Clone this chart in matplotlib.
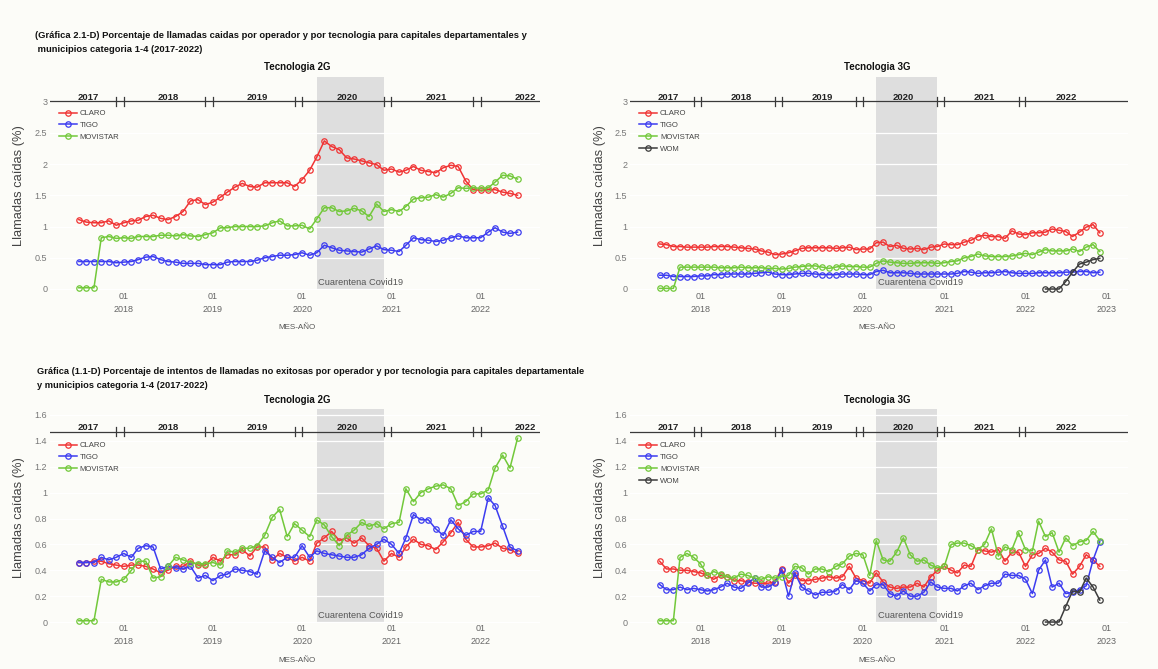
import numpy as np
import pandas as pd
import matplotlib
matplotlib.use("Agg")
import matplotlib.pyplot as plt
from matplotlib import font_manager
from matplotlib.font_manager import FontProperties

# ---------------- data ----------------
start_month = "2017-07-01"
n_months_2g = 60
n_months_3g = 66
wom_start_month = "2022-04-01"
years = [2017, 2018, 2019, 2020, 2021, 2022]
covid_start = "2020-03-01"
covid_end = "2020-12-01"
covid_label = "Cuarentena Covid19"
operators = ["CLARO", "TIGO", "MOVISTAR", "WOM"]

# Llamadas caidas - 2G
claro_2g_caidas = [1.11, 1.07, 1.06, 1.06, 1.09, 1.02, 1.06, 1.09, 1.10, 1.16,
                   1.18, 1.13, 1.11, 1.16, 1.24, 1.41, 1.43, 1.35, 1.39, 1.47,
                   1.55, 1.63, 1.69, 1.64, 1.63, 1.70, 1.70, 1.70, 1.70, 1.64,
                   1.75, 1.90, 2.11, 2.37, 2.28, 2.23, 2.10, 2.08, 2.05, 2.02,
                   1.99, 1.90, 1.92, 1.87, 1.90, 1.96, 1.90, 1.88, 1.86, 1.94,
                   1.98, 1.96, 1.73, 1.59, 1.58, 1.59, 1.59, 1.55, 1.53, 1.50]
tigo_2g_caidas = [0.44, 0.44, 0.44, 0.44, 0.44, 0.42, 0.43, 0.44, 0.47, 0.51,
                  0.52, 0.47, 0.44, 0.43, 0.41, 0.41, 0.41, 0.39, 0.39, 0.39,
                  0.43, 0.44, 0.44, 0.44, 0.46, 0.50, 0.52, 0.54, 0.54, 0.55,
                  0.58, 0.54, 0.58, 0.70, 0.66, 0.62, 0.61, 0.60, 0.59, 0.64,
                  0.69, 0.63, 0.62, 0.60, 0.70, 0.82, 0.79, 0.78, 0.76, 0.78,
                  0.82, 0.85, 0.82, 0.82, 0.82, 0.91, 0.98, 0.91, 0.89, 0.91]
movistar_2g_caidas = [0.02, 0.02, 0.02, 0.82, 0.84, 0.81, 0.82, 0.81, 0.84, 0.84,
                      0.84, 0.86, 0.86, 0.85, 0.87, 0.85, 0.84, 0.87, 0.90, 0.98,
                      0.98, 1.00, 1.00, 1.00, 1.00, 1.01, 1.06, 1.09, 1.01, 1.01,
                      1.02, 0.96, 1.12, 1.30, 1.30, 1.24, 1.25, 1.29, 1.25, 1.16,
                      1.36, 1.24, 1.27, 1.24, 1.32, 1.44, 1.46, 1.47, 1.51, 1.47,
                      1.53, 1.62, 1.61, 1.62, 1.61, 1.62, 1.71, 1.82, 1.81, 1.76]

# Llamadas caidas - 3G
claro_3g_caidas = [0.72, 0.71, 0.68, 0.68, 0.67, 0.67, 0.67, 0.67, 0.68, 0.68,
                   0.68, 0.67, 0.66, 0.65, 0.64, 0.61, 0.59, 0.55, 0.56, 0.58,
                   0.61, 0.65, 0.66, 0.66, 0.66, 0.66, 0.65, 0.66, 0.67, 0.63,
                   0.64, 0.64, 0.74, 0.75, 0.68, 0.70, 0.65, 0.64, 0.65, 0.63,
                   0.67, 0.68, 0.72, 0.71, 0.71, 0.75, 0.78, 0.84, 0.86, 0.84,
                   0.84, 0.81, 0.93, 0.88, 0.87, 0.90, 0.90, 0.91, 0.96, 0.94,
                   0.92, 0.84, 0.91, 0.99, 1.03, 0.90]
tigo_3g_caidas = [0.22, 0.22, 0.20, 0.20, 0.20, 0.20, 0.21, 0.21, 0.23, 0.23,
                  0.24, 0.24, 0.24, 0.24, 0.25, 0.26, 0.27, 0.24, 0.23, 0.23,
                  0.24, 0.25, 0.25, 0.24, 0.23, 0.23, 0.23, 0.24, 0.24, 0.24,
                  0.23, 0.23, 0.28, 0.30, 0.26, 0.26, 0.26, 0.25, 0.24, 0.24,
                  0.24, 0.24, 0.24, 0.24, 0.25, 0.28, 0.27, 0.25, 0.26, 0.26,
                  0.27, 0.28, 0.26, 0.25, 0.25, 0.25, 0.26, 0.26, 0.26, 0.26,
                  0.27, 0.27, 0.28, 0.28, 0.26, 0.27]
movistar_3g_caidas = [0.01, 0.01, 0.01, 0.35, 0.35, 0.35, 0.35, 0.35, 0.35, 0.34,
                      0.34, 0.34, 0.35, 0.34, 0.34, 0.34, 0.33, 0.33, 0.32, 0.33,
                      0.35, 0.36, 0.37, 0.37, 0.35, 0.33, 0.35, 0.37, 0.36, 0.36,
                      0.35, 0.35, 0.41, 0.45, 0.43, 0.42, 0.41, 0.41, 0.42, 0.42,
                      0.42, 0.41, 0.42, 0.44, 0.45, 0.50, 0.52, 0.56, 0.53, 0.52,
                      0.52, 0.52, 0.53, 0.55, 0.57, 0.55, 0.59, 0.63, 0.61, 0.61,
                      0.61, 0.64, 0.60, 0.67, 0.71, 0.60]
wom_3g_caidas = [0.0, 0.0, 0.0, 0.12, 0.27, 0.40, 0.43, 0.47, 0.49]

# Intentos no exitosos - 2G
claro_2g_intentos = [0.46, 0.46, 0.47, 0.47, 0.45, 0.44, 0.43, 0.44, 0.44, 0.43,
                     0.41, 0.38, 0.40, 0.43, 0.43, 0.47, 0.44, 0.44, 0.50, 0.47,
                     0.52, 0.52, 0.56, 0.51, 0.58, 0.58, 0.48, 0.53, 0.50, 0.47,
                     0.50, 0.47, 0.61, 0.65, 0.70, 0.63, 0.65, 0.61, 0.65, 0.59,
                     0.57, 0.47, 0.53, 0.50, 0.58, 0.64, 0.60, 0.59, 0.56, 0.62,
                     0.69, 0.77, 0.64, 0.58, 0.58, 0.59, 0.61, 0.57, 0.56, 0.53]
tigo_2g_intentos = [0.46, 0.46, 0.46, 0.50, 0.48, 0.50, 0.53, 0.50, 0.57, 0.59,
                    0.58, 0.41, 0.43, 0.42, 0.41, 0.43, 0.34, 0.36, 0.32, 0.36,
                    0.37, 0.41, 0.40, 0.39, 0.37, 0.55, 0.50, 0.46, 0.50, 0.50,
                    0.59, 0.50, 0.55, 0.53, 0.52, 0.51, 0.50, 0.50, 0.52, 0.57,
                    0.60, 0.64, 0.60, 0.53, 0.65, 0.83, 0.79, 0.79, 0.72, 0.67,
                    0.79, 0.72, 0.67, 0.70, 0.70, 0.96, 0.90, 0.74, 0.58, 0.55]
movistar_2g_intentos = [0.01, 0.01, 0.01, 0.33, 0.31, 0.31, 0.33, 0.40, 0.47, 0.47,
                        0.34, 0.35, 0.43, 0.50, 0.48, 0.46, 0.45, 0.45, 0.46, 0.44,
                        0.55, 0.54, 0.57, 0.57, 0.59, 0.67, 0.81, 0.87, 0.66, 0.76,
                        0.71, 0.66, 0.79, 0.75, 0.66, 0.59, 0.67, 0.71, 0.77, 0.74,
                        0.76, 0.72, 0.76, 0.77, 1.03, 0.93, 1.00, 1.03, 1.05, 1.06,
                        1.03, 0.90, 0.93, 0.99, 0.99, 1.02, 1.19, 1.29, 1.19, 1.42]

# Intentos no exitosos - 3G
claro_3g_intentos = [0.47, 0.41, 0.41, 0.40, 0.40, 0.39, 0.38, 0.36, 0.33, 0.36,
                     0.35, 0.32, 0.32, 0.31, 0.30, 0.30, 0.30, 0.31, 0.41, 0.30,
                     0.36, 0.32, 0.32, 0.33, 0.34, 0.35, 0.34, 0.35, 0.43, 0.34,
                     0.32, 0.30, 0.38, 0.31, 0.27, 0.26, 0.27, 0.27, 0.30, 0.27,
                     0.35, 0.40, 0.43, 0.40, 0.38, 0.44, 0.43, 0.56, 0.55, 0.54,
                     0.56, 0.47, 0.54, 0.54, 0.43, 0.52, 0.53, 0.57, 0.54, 0.48,
                     0.47, 0.37, 0.43, 0.52, 0.48, 0.43]
tigo_3g_intentos = [0.29, 0.25, 0.25, 0.27, 0.25, 0.26, 0.25, 0.24, 0.25, 0.27,
                    0.30, 0.27, 0.26, 0.30, 0.34, 0.27, 0.27, 0.30, 0.40, 0.20,
                    0.38, 0.27, 0.24, 0.21, 0.23, 0.23, 0.24, 0.29, 0.25, 0.32,
                    0.30, 0.24, 0.29, 0.29, 0.22, 0.20, 0.24, 0.20, 0.20, 0.23,
                    0.31, 0.27, 0.26, 0.26, 0.24, 0.28, 0.30, 0.25, 0.28, 0.30,
                    0.30, 0.37, 0.36, 0.36, 0.33, 0.22, 0.40, 0.48, 0.27, 0.30,
                    0.22, 0.23, 0.25, 0.28, 0.48, 0.62]
movistar_3g_intentos = [0.01, 0.01, 0.01, 0.50, 0.53, 0.50, 0.45, 0.36, 0.39, 0.37,
                        0.35, 0.34, 0.37, 0.36, 0.34, 0.33, 0.35, 0.34, 0.35, 0.36,
                        0.43, 0.42, 0.37, 0.41, 0.41, 0.39, 0.43, 0.45, 0.51, 0.53,
                        0.52, 0.36, 0.63, 0.48, 0.47, 0.54, 0.65, 0.52, 0.47, 0.48,
                        0.44, 0.42, 0.43, 0.60, 0.61, 0.61, 0.59, 0.56, 0.60, 0.72,
                        0.51, 0.58, 0.56, 0.69, 0.56, 0.55, 0.78, 0.66, 0.69, 0.54,
                        0.65, 0.59, 0.62, 0.63, 0.70, 0.63]
wom_3g_intentos = [0.0, 0.0, 0.0, 0.12, 0.24, 0.23, 0.34, 0.27, 0.17]

title_top = ["(Gráfica 2.1-D) Porcentaje de llamadas caidas por operador y por tecnologia para capitales departamentales y",
             " municipios categoria 1-4 (2017-2022)"]
title_bottom = ["Gráfica (1.1-D) Porcentaje de intentos de llamadas no exitosas por operador y por tecnologia para capitales departamentale",
                "y municipios categoria 1-4 (2017-2022)"]
ylabel = "Llamadas caídas (%)"
xlabel = "MES-AÑO"

# ---------------- style ----------------
def pick_font(names):
    for n in names:
        try:
            font_manager.findfont(FontProperties(family=n), fallback_to_default=False)
            return n
        except Exception:
            continue
    return "DejaVu Sans"

NARROW = pick_font(["Liberation Sans Narrow", "Liberation Sans", "DejaVu Sans"])
REGULAR = pick_font(["Liberation Sans", "DejaVu Sans"])
plt.rcParams["font.family"] = [NARROW, "DejaVu Sans"]

BG = "#fcfcf8"
SHADE = "#dedede"
BAND = "#3a3a3a"
colors = {"CLARO": "#f03434", "TIGO": "#3c3cf0", "MOVISTAR": "#72c83a", "WOM": "#3c3c3c"}

W, H = 1158, 669
fig = plt.figure(figsize=(W / 100, H / 100), dpi=100, facecolor=BG)

def fx(px):
    return px / W

def fy(py):
    return 1 - py / H

def make_ax(left, top, width, height):
    return fig.add_axes([fx(left), fy(top + height), width / W, height / H])

months_2g = pd.date_range(start_month, periods=n_months_2g, freq="MS")
months_3g = pd.date_range(start_month, periods=n_months_3g, freq="MS")
months_wom = pd.date_range(wom_start_month, periods=len(wom_3g_caidas), freq="MS")


def draw_panel(ax, series, xlim, ylim, yticks, band_y, bar_h, tick_years, legend_ops):
    ax.set_facecolor(BG)
    for sp in ax.spines.values():
        sp.set_visible(False)
    ax.set_xlim(pd.Timestamp(xlim[0]), pd.Timestamp(xlim[1]))
    ax.set_ylim(*ylim)
    # covid shade
    ax.fill_between([pd.Timestamp(covid_start), pd.Timestamp(covid_end)], 0, ylim[1],
                    color=SHADE, lw=0, zorder=0.5)
    # grid (white)
    for t in yticks:
        ax.axhline(t, color="white", lw=0.9, zorder=0.8)
    # year band
    ax.axhline(band_y, color=BAND, lw=0.9, zorder=2)
    for yv in years[:-1]:
        for d in [pd.Timestamp(f"{yv}-12-01"), pd.Timestamp(f"{yv + 1}-01-01")]:
            ax.plot([d, d], [band_y - bar_h, band_y + bar_h], color=BAND, lw=0.9, zorder=2)
    first = pd.Timestamp(start_month)
    for yv in years:
        xc = max(pd.Timestamp(f"{yv}-07-02"), first + pd.Timedelta(days=40))
        ax.text(xc, band_y, str(yv), ha="center", va="bottom", fontsize=6.8,
                fontweight="bold", color="#222", zorder=3)
    ax.annotate(covid_label, (pd.Timestamp(covid_start), 0), xytext=(1, 1.5),
                textcoords="offset points", ha="left", va="bottom", fontsize=6.7,
                color="#555", zorder=3)
    handles = []
    for name, (x, y) in series:
        ln, = ax.plot(x, y, color=colors[name], lw=1.1, marker="o", ms=3.9,
                      mfc="none", mew=0.9, zorder=4, label=name, clip_on=False)
        handles.append(ln)
    # ticks
    ax.set_yticks(yticks)
    ax.set_yticklabels([f"{t:g}" for t in yticks])
    ax.tick_params(axis="y", length=0, pad=2, labelsize=6.5, labelcolor="#777")
    xt = [pd.Timestamp(f"{yv}-01-01") for yv in tick_years]
    ax.set_xticks(xt)
    ax.set_xticklabels([f"01\n{yv}" for yv in tick_years], linespacing=1.55)
    ax.tick_params(axis="x", length=0, pad=-3, labelsize=6.5, labelcolor="#666")
    leg = ax.legend(handles=[h for h in handles if h.get_label() in legend_ops],
                    loc="upper left", bbox_to_anchor=(0.018, 0.848), frameon=False,
                    fontsize=5.6, handlelength=2.3, handletextpad=0.4,
                    labelspacing=0.55, borderpad=0, borderaxespad=0)
    for t in leg.get_texts():
        t.set_color("#444")


xlim_2g = ("2017-03-05", "2022-09-01")
xlim_3g = ("2017-02-18", "2023-04-07")
yt_top = [0, 0.5, 1, 1.5, 2, 2.5, 3]
yt_bot = [0, 0.2, 0.4, 0.6, 0.8, 1.0, 1.2, 1.4, 1.6]

ax1 = make_ax(50, 76.5, 490, 220)
draw_panel(ax1, [("CLARO", (months_2g, claro_2g_caidas)),
                 ("TIGO", (months_2g, tigo_2g_caidas)),
                 ("MOVISTAR", (months_2g, movistar_2g_caidas))],
           xlim_2g, (-0.12, 3.4), yt_top, 3.0, 0.075, [2018, 2019, 2020, 2021, 2022],
           operators)

ax2 = make_ax(630, 76.5, 498, 220)
draw_panel(ax2, [("CLARO", (months_3g, claro_3g_caidas)),
                 ("TIGO", (months_3g, tigo_3g_caidas)),
                 ("MOVISTAR", (months_3g, movistar_3g_caidas)),
                 ("WOM", (months_wom, wom_3g_caidas))],
           xlim_3g, (-0.12, 3.4), yt_top, 3.0, 0.075, [2018, 2019, 2020, 2021, 2022, 2023],
           operators)

ax3 = make_ax(50, 408.5, 490, 220)
draw_panel(ax3, [("CLARO", (months_2g, claro_2g_intentos)),
                 ("TIGO", (months_2g, tigo_2g_intentos)),
                 ("MOVISTAR", (months_2g, movistar_2g_intentos))],
           xlim_2g, (-0.05, 1.65), yt_bot, 1.47, 0.036, [2018, 2019, 2020, 2021, 2022],
           operators)

ax4 = make_ax(630, 408.5, 498, 220)
draw_panel(ax4, [("CLARO", (months_3g, claro_3g_intentos)),
                 ("TIGO", (months_3g, tigo_3g_intentos)),
                 ("MOVISTAR", (months_3g, movistar_3g_intentos)),
                 ("WOM", (months_wom, wom_3g_intentos))],
           xlim_3g, (-0.05, 1.65), yt_bot, 1.47, 0.036, [2018, 2019, 2020, 2021, 2022, 2023],
           operators)

# y labels
for xpx, ypx in [(19, 186), (600, 186), (19, 518), (600, 518)]:
    fig.text(fx(xpx), fy(ypx), ylabel, rotation=90, ha="center", va="center",
             fontsize=9.3, color="#444", family=[REGULAR, "DejaVu Sans"])
# x labels
for xpx, ypx in [(297, 327), (877, 327), (297, 661), (877, 661)]:
    fig.text(fx(xpx), fy(ypx), xlabel, ha="center", va="center", fontsize=5.8, color="#555")
# panel titles
for xpx, ypx, txt in [(297, 67, "Tecnologia 2G"), (877, 67, "Tecnologia 3G"),
                      (297, 400, "Tecnologia 2G"), (877, 400, "Tecnologia 3G")]:
    fig.text(fx(xpx), fy(ypx), txt, ha="center", va="center", fontsize=7.0,
             fontweight="bold", color="#111")
# figure titles
TS = 6.75
fig.text(fx(35), fy(36), title_top[0], ha="left", va="center", fontsize=TS,
         fontweight="bold", color="#111")
fig.text(fx(35), fy(50), title_top[1], ha="left", va="center", fontsize=TS,
         fontweight="bold", color="#111")
fig.text(fx(37), fy(371), title_bottom[0], ha="left", va="center", fontsize=TS * 0.985,
         fontweight="bold", color="#111")
fig.text(fx(37), fy(385), title_bottom[1], ha="left", va="center", fontsize=TS * 0.985,
         fontweight="bold", color="#111")

fig.savefig("out.png", dpi=100, facecolor=BG)
